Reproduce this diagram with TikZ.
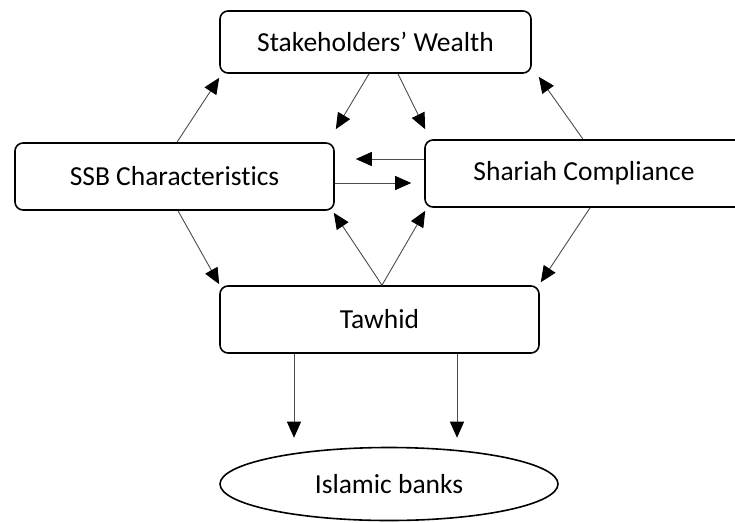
\documentclass[tikz,border=0pt]{standalone}
\usepackage{fontspec}
\setmainfont{Carlito}[Ligatures=NoCommon]
\usepackage{tikz}
\usetikzlibrary{shapes.geometric, arrows.meta}

\begin{document}
\begin{tikzpicture}[x=1pt, y=-1pt,
    font=\fontsize{27.5}{31}\selectfont,
    box/.style={draw, line width=1.6pt, rounded corners=8pt, inner sep=0pt},
    oval/.style={draw, ellipse, line width=1.6pt, inner sep=0pt},
    arr/.style={draw=black!70, line width=0.9pt, -{Triangle[length=16pt, width=14pt, black]}}]
    \useasboundingbox (0,0) rectangle (735,522);

    % Define nodes
    \node[box, minimum width=311pt, minimum height=62pt] (sw) at (375.5,42) {Stakeholders’ Wealth};

    \node[box, minimum width=319pt, minimum height=67pt] (ssb) at (174.5,176.5) {SSB Characteristics};
    \node[box, minimum width=318pt, minimum height=67pt] (sc) at (584,173.5) {Shariah Compliance};

    \node[box, minimum width=319pt, minimum height=67pt] (taw) at (379.5,319.5) {Tawhid};

    \node[oval, minimum width=338pt, minimum height=73pt] (ib) at (389,484) {Islamic banks};

    % Draw edges
    \draw[arr] ([xshift=2.5pt]ssb.north) -- ([yshift=-4pt]sw.south west);
    \draw[arr] ([xshift=-1pt]sc.north) -- ([xshift=7pt, yshift=-3pt]sw.south east);

    \draw[arr] ([xshift=-6.5pt]sw.south) -- ([xshift=1pt, yshift=13pt]ssb.north east);
    \draw[arr] ([xshift=22.5pt]sw.south) -- ([xshift=1pt, yshift=10pt]sc.north west);

    \draw[arr] ([yshift=14.5pt]sc.west) -- ([xshift=21pt, yshift=17.5pt]ssb.east);
    \draw[arr] ([yshift=-6.5pt]ssb.east) -- ([xshift=-13pt, yshift=-9.5pt]sc.west);

    \draw[arr] ([xshift=3.5pt]ssb.south) -- ([yshift=1pt]taw.north west);
    \draw[arr] ([xshift=6pt]sc.south) -- ([xshift=1pt, yshift=3pt]taw.north east);

    \draw[arr] ([xshift=2.5pt]taw.north) -- ([xshift=-1pt, yshift=-2pt]ssb.south east);
    \draw[arr] ([xshift=2.5pt]taw.north) -- ([xshift=1pt, yshift=-3pt]sc.south west);

    \draw[arr] ([xshift=-85.5pt]taw.south) -- ([xshift=-95pt, yshift=9pt]ib.north);
    \draw[arr] ([xshift=77.5pt]taw.south) -- ([xshift=68pt, yshift=9pt]ib.north);
\end{tikzpicture}
\end{document}
